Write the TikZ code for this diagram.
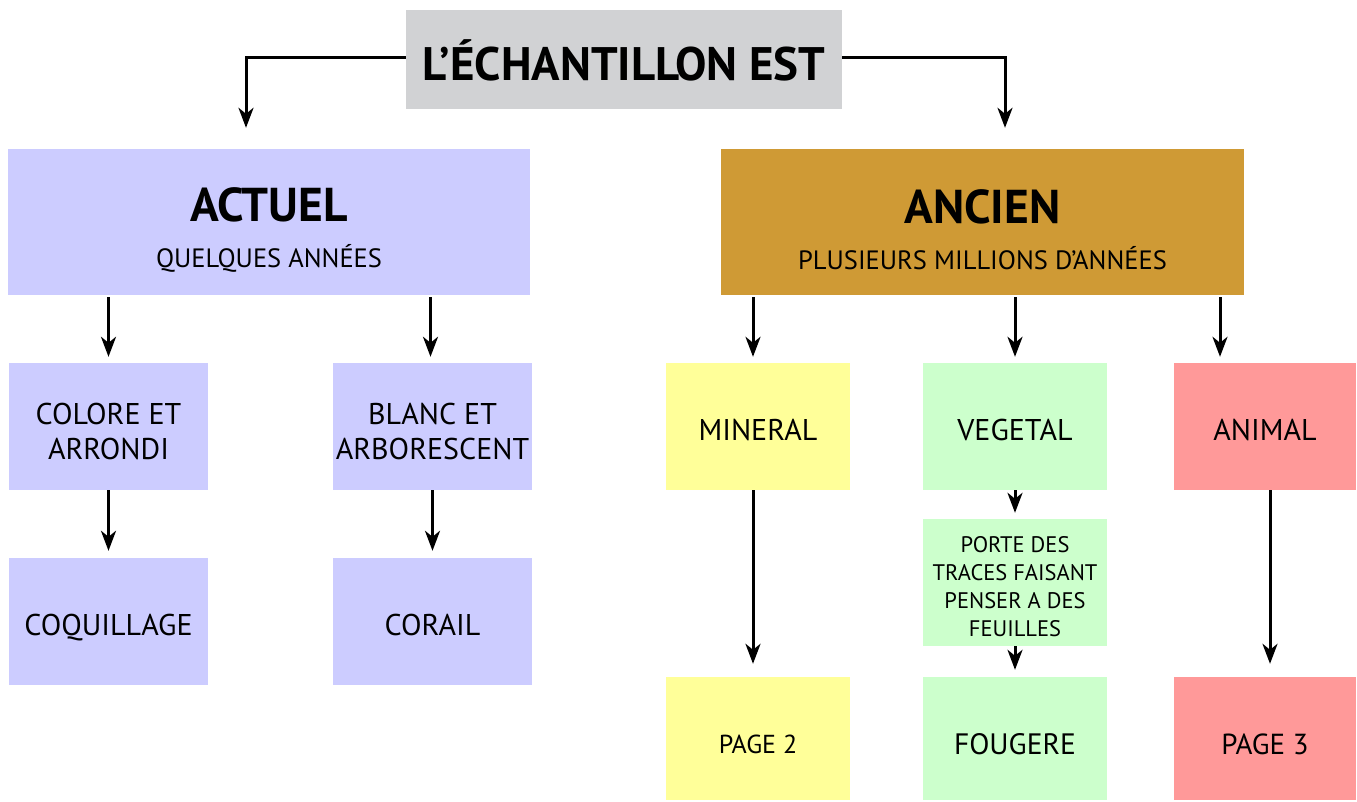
\documentclass[tikz,border=0pt]{standalone}
\usepackage{fontspec}
\setmainfont{PT Sans}
\usetikzlibrary{arrows.meta,calc}
\definecolor{cgray}{HTML}{D1D2D4}
\definecolor{clav}{HTML}{CCCCFF}
\definecolor{cgold}{HTML}{CF9A35}
\definecolor{cyel}{HTML}{FFFF99}
\definecolor{cgrn}{HTML}{CCFFCC}
\definecolor{cred}{HTML}{FF9999}
\begin{document}
\begin{tikzpicture}[x=1pt,y=-1pt,
  box/.style={rectangle,inner sep=0pt,align=center,text=black},
  bigbox/.style={box,minimum width=523pt,minimum height=146pt},
  smallbox/.style={box,minimum width=184pt,minimum height=127pt,font=\fontsize{30}{35}\selectfont},
  oneline/.style={text height=27pt,text depth=0pt},
  arr/.style={line width=3pt,-{Stealth[length=20pt,width=15pt,inset=6pt]}}]
\useasboundingbox (0,0) rectangle (1357,801);
\fill[white] (0,0) rectangle (1357,801);
\node[box,fill=cgray,minimum width=436pt,minimum height=99pt,text height=41pt,text depth=0pt] (top) at (624,59.5)
  {\fontsize{47}{50}\selectfont\bfseries L’ÉCHANTILLON EST};
\node[bigbox,fill=clav,minimum width=522pt] (actuel) at (269,222)
  {{\fontsize{47.5}{47.5}\selectfont\bfseries\rule{0pt}{50pt}ACTUEL}\\[21.5pt]{\fontsize{26.5}{26.5}\selectfont QUELQUES ANNÉES}};
\node[bigbox,fill=cgold] (ancien) at (982.5,222)
  {{\fontsize{47.5}{47.5}\selectfont\bfseries\rule{0pt}{50pt}ANCIEN}\\[21.5pt]{\fontsize{26.5}{26.5}\selectfont PLUSIEURS MILLIONS D’ANNÉES}};
\node[smallbox,fill=clav,minimum width=199pt] (colore) at (108.5,426.5) {\rule{0pt}{30.5pt}COLORE ET\\ARRONDI};
\node[smallbox,fill=clav,minimum width=199pt] (blanc) at (432.5,426.5) {\rule{0pt}{30.5pt}BLANC ET\\ARBORESCENT};
\node[smallbox,oneline,fill=clav,minimum width=199pt] (coquillage) at (108.5,621.5) {COQUILLAGE};
\node[smallbox,oneline,fill=clav,minimum width=199pt] (corail) at (432.5,621.5) {CORAIL};
\node[smallbox,oneline,fill=cyel] (mineral) at (758,426.5) {MINERAL};
\node[smallbox,oneline,fill=cgrn] (vegetal) at (1015,426.5) {VEGETAL};
\node[smallbox,oneline,fill=cred,minimum width=182pt] (animal) at (1265,426.5) {ANIMAL};
\node[smallbox,fill=cgrn,font=\fontsize{22.5}{28}\selectfont] (porte) at (1015,582.5) {\rule{0pt}{24pt}PORTE DES\\TRACES FAISANT\\PENSER A DES\\FEUILLES};
\node[smallbox,fill=cyel,minimum height=123pt,font=\fontsize{26}{30}\selectfont,text height=29pt,text depth=0pt] (page2) at (758,738.5) {PAGE 2};
\node[smallbox,fill=cgrn,minimum height=123pt,font=\fontsize{29.5}{35}\selectfont,text height=32pt,text depth=0pt] (fougere) at (1015,738.5) {FOUGERE};
\node[smallbox,fill=cred,minimum width=182pt,minimum height=123pt,font=\fontsize{29}{35}\selectfont,text height=32pt,text depth=0pt] (page3) at (1265,738.5) {PAGE 3};
% connectors
\draw[arr,shorten >=21pt] ([yshift=2.5pt]top.west) -| ([xshift=-23pt]actuel.north);
\draw[arr,shorten >=21pt] ([yshift=2.5pt]top.east) -| ([xshift=22.5pt]ancien.north);
\draw[arr,shorten <=2pt,shorten >=6pt] (actuel.south -| colore.north) -- (colore.north);
\draw[arr,shorten <=2pt,shorten >=6pt] ([xshift=-2pt]actuel.south -| blanc.north) -- ([xshift=-2pt]blanc.north);
\draw[arr,shorten <=2pt,shorten >=6pt] ([xshift=-5pt]ancien.south -| mineral.north) -- ([xshift=-5pt]mineral.north);
\draw[arr,shorten <=2pt,shorten >=6pt] (ancien.south -| vegetal.north) -- (vegetal.north);
\draw[arr,shorten <=2pt,shorten >=6pt] ([xshift=-45pt]ancien.south -| animal.north) -- ([xshift=-45pt]animal.north);
\draw[arr,shorten >=7pt] (colore.south) -- (coquillage.north);
\draw[arr,shorten >=7pt] (blanc.south) -- (corail.north);
\draw[arr,shorten >=13pt] ([xshift=-5pt]mineral.south) -- ([xshift=-5pt]page2.north);
\draw[arr,shorten >=6pt] (vegetal.south) -- (porte.north);
\draw[arr,shorten >=7pt] (porte.south) -- (fougere.north);
\draw[arr,shorten >=13pt] ([xshift=5pt]animal.south) -- ([xshift=5pt]page3.north);
\end{tikzpicture}
\end{document}
